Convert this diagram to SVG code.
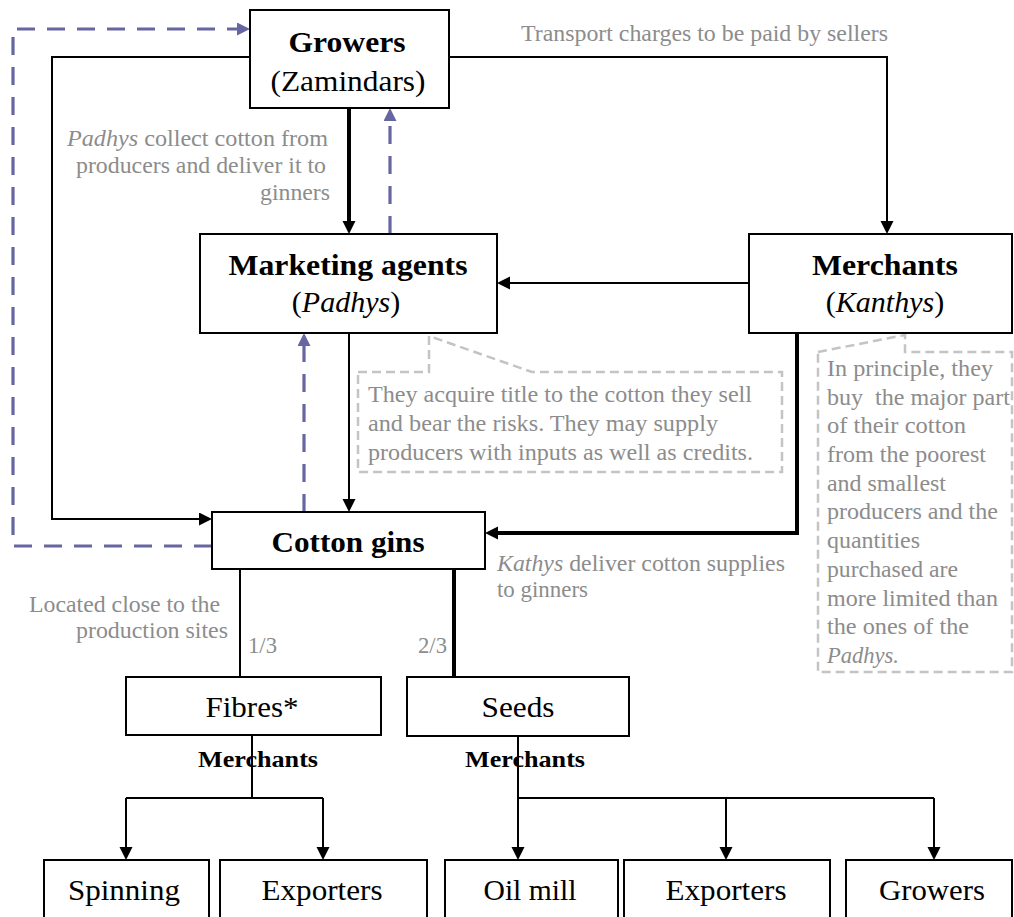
<svg xmlns="http://www.w3.org/2000/svg" width="1014" height="917" viewBox="0 0 1014 917">
<style>
.box{fill:#fff;stroke:#000;stroke-width:2}
.hd{font-family:"Liberation Serif",serif;font-size:30px;font-weight:bold;fill:#000;text-anchor:middle}
.sub{font-family:"Liberation Serif",serif;font-size:30px;fill:#000;text-anchor:middle}
.nt{font-family:"Liberation Serif",serif;font-size:29px;fill:#000;text-anchor:middle}
.ann{font-family:"Liberation Serif",serif;font-size:23px;fill:#8c8c8c}
.lbl{font-family:"Liberation Serif",serif;font-size:24px;font-weight:bold;fill:#000;text-anchor:middle}
.ln{fill:none;stroke:#000;stroke-width:2}
.thick{fill:none;stroke:#000;stroke-width:4}
.pd{fill:none;stroke:#6666a2;stroke-width:3.2;stroke-dasharray:18 12}
.co{fill:none;stroke:#c4c4c4;stroke-width:2.5;stroke-dasharray:9 5}
.it{font-style:italic}
</style>
<defs>
<marker id="ab" markerUnits="userSpaceOnUse" markerWidth="14" markerHeight="14" refX="0" refY="6.5" orient="auto">
<path d="M0,0 L13,6.5 L0,13 Z" fill="#000"/>
</marker>
<marker id="ap" markerUnits="userSpaceOnUse" markerWidth="14" markerHeight="14" refX="0" refY="6.5" orient="auto">
<path d="M0,0 L13,6.5 L0,13 Z" fill="#6666a2"/>
</marker>
</defs>

<g id="annotations">
<text class="ann" x="521" y="41" textLength="367" lengthAdjust="spacingAndGlyphs">Transport charges to be paid by sellers</text>
<text class="ann" x="328" y="146" text-anchor="end" textLength="261" lengthAdjust="spacingAndGlyphs"><tspan class="it">Padhys</tspan> collect cotton from</text>
<text class="ann" x="326" y="173" text-anchor="end" textLength="250" lengthAdjust="spacingAndGlyphs">producers and deliver it to</text>
<text class="ann" x="330" y="200" text-anchor="end" textLength="70" lengthAdjust="spacingAndGlyphs">ginners</text>
<path class="co" d="M358,372 L429,372 L429,336 L532,372 L782,372 L782,472 L358,472 Z"/>
<text class="ann" x="368" y="402" textLength="384" lengthAdjust="spacingAndGlyphs">They acquire title to the cotton they sell</text>
<text class="ann" x="368" y="431" textLength="350" lengthAdjust="spacingAndGlyphs">and bear the risks. They may supply</text>
<text class="ann" x="368" y="460" textLength="385" lengthAdjust="spacingAndGlyphs">producers with inputs as well as credits.</text>
<path class="co" d="M818,352 L905,335 L905,352 L1012,352 L1012,672 L818,672 Z"/>
<text class="ann" x="827" y="376" textLength="166" lengthAdjust="spacingAndGlyphs">In principle, they</text>
<text class="ann" x="827" y="405" textLength="183" lengthAdjust="spacingAndGlyphs" xml:space="preserve">buy  the major part</text>
<text class="ann" x="827" y="433" textLength="139" lengthAdjust="spacingAndGlyphs">of their cotton</text>
<text class="ann" x="827" y="462" textLength="159" lengthAdjust="spacingAndGlyphs">from the poorest</text>
<text class="ann" x="827" y="491" textLength="119" lengthAdjust="spacingAndGlyphs">and smallest</text>
<text class="ann" x="827" y="519" textLength="171" lengthAdjust="spacingAndGlyphs">producers and the</text>
<text class="ann" x="827" y="548" textLength="93" lengthAdjust="spacingAndGlyphs">quantities</text>
<text class="ann" x="827" y="577" textLength="131" lengthAdjust="spacingAndGlyphs">purchased are</text>
<text class="ann" x="827" y="606" textLength="171" lengthAdjust="spacingAndGlyphs">more limited than</text>
<text class="ann" x="827" y="634" textLength="142" lengthAdjust="spacingAndGlyphs">the ones of the</text>
<text class="ann it" x="827" y="663" textLength="72" lengthAdjust="spacingAndGlyphs">Padhys.</text>
<text class="ann" x="497" y="571" textLength="288" lengthAdjust="spacingAndGlyphs"><tspan class="it">Kathys</tspan> deliver cotton supplies</text>
<text class="ann" x="497" y="597" textLength="91" lengthAdjust="spacingAndGlyphs">to ginners</text>
<text class="ann" x="29" y="612" textLength="191" lengthAdjust="spacingAndGlyphs">Located close to the</text>
<text class="ann" x="76" y="638" textLength="152" lengthAdjust="spacingAndGlyphs">production sites</text>
<text class="ann" x="248" y="653" textLength="29" lengthAdjust="spacingAndGlyphs">1/3</text>
<text class="ann" x="418" y="653" textLength="29" lengthAdjust="spacingAndGlyphs">2/3</text>
<text class="lbl" x="258" y="767" textLength="120" lengthAdjust="spacingAndGlyphs">Merchants</text>
<text class="lbl" x="525" y="767" textLength="120" lengthAdjust="spacingAndGlyphs">Merchants</text>
</g>

<g id="connectors">
<path class="ln" d="M250,57 L52,57 L52,519 L199,519" marker-end="url(#ab)"/>
<path class="ln" d="M449,57 L887,57 L887,221" marker-end="url(#ab)"/>
<path class="thick" d="M349,108 L349,221" marker-end="url(#ab)"/>
<path class="pd" d="M390,234 L390,121" marker-end="url(#ap)"/>
<path class="ln" d="M749,283 L510,283" marker-end="url(#ab)"/>
<path class="ln" d="M349,333 L349,499" marker-end="url(#ab)"/>
<path class="pd" d="M304,512 L304,346" marker-end="url(#ap)"/>
<path class="pd" d="M212,546 L13,546 L13,29 L237,29" marker-end="url(#ap)"/>
<path class="thick" d="M797,333 L797,533 L498,533" marker-end="url(#ab)"/>
<path class="ln" d="M240,569 L240,677"/>
<path class="thick" d="M454,569 L454,677"/>
<path class="ln" d="M252,735 L252,798"/>
<path class="ln" d="M126,798 L323,798"/>
<path class="ln" d="M126,798 L126,847" marker-end="url(#ab)"/>
<path class="ln" d="M323,798 L323,847" marker-end="url(#ab)"/>
<path class="ln" d="M518,736 L518,847" marker-end="url(#ab)"/>
<path class="ln" d="M518,798 L934,798"/>
<path class="ln" d="M726,798 L726,847" marker-end="url(#ab)"/>
<path class="ln" d="M934,798 L934,847" marker-end="url(#ab)"/>
</g>

<g id="node-growers">
<rect class="box" x="250" y="10" width="199" height="98"/>
<text class="hd" x="347" y="52" textLength="117" lengthAdjust="spacingAndGlyphs">Growers</text>
<text class="sub" x="348" y="91" textLength="155" lengthAdjust="spacingAndGlyphs">(Zamindars)</text>
</g>
<g id="node-marketing">
<rect class="box" x="200" y="234" width="297" height="99"/>
<text class="hd" x="348" y="275" textLength="239" lengthAdjust="spacingAndGlyphs">Marketing agents</text>
<text class="sub" x="346" y="312">(<tspan class="it">Padhys</tspan>)</text>
</g>
<g id="node-merchants">
<rect class="box" x="749" y="234" width="263" height="99"/>
<text class="hd" x="885" y="275" textLength="146" lengthAdjust="spacingAndGlyphs">Merchants</text>
<text class="sub" x="885" y="312">(<tspan class="it">Kanthys</tspan>)</text>
</g>
<g id="node-cottongins">
<rect class="box" x="212" y="512" width="273" height="57"/>
<text class="hd" x="348" y="552" textLength="153" lengthAdjust="spacingAndGlyphs">Cotton gins</text>
</g>
<g id="node-fibres">
<rect class="box" x="126" y="677" width="255" height="58"/>
<text class="nt" x="252" y="717" textLength="93" lengthAdjust="spacingAndGlyphs">Fibres*</text>
</g>
<g id="node-seeds">
<rect class="box" x="407" y="677" width="222" height="59"/>
<text class="nt" x="518" y="717" textLength="73" lengthAdjust="spacingAndGlyphs">Seeds</text>
</g>
<g id="node-spinning">
<rect class="box" x="44" y="860" width="165" height="70"/>
<text class="nt" x="124" y="900" textLength="112" lengthAdjust="spacingAndGlyphs">Spinning</text>
</g>
<g id="node-exporters1">
<rect class="box" x="220" y="860" width="207" height="70"/>
<text class="nt" x="322" y="900" textLength="121" lengthAdjust="spacingAndGlyphs">Exporters</text>
</g>
<g id="node-oilmill">
<rect class="box" x="445" y="860" width="173" height="70"/>
<text class="nt" x="530" y="900" textLength="93" lengthAdjust="spacingAndGlyphs">Oil mill</text>
</g>
<g id="node-exporters2">
<rect class="box" x="624" y="860" width="206" height="70"/>
<text class="nt" x="726" y="900" textLength="121" lengthAdjust="spacingAndGlyphs">Exporters</text>
</g>
<g id="node-growers2">
<rect class="box" x="846" y="860" width="166" height="70"/>
<text class="nt" x="932" y="900" textLength="106" lengthAdjust="spacingAndGlyphs">Growers</text>
</g>
</svg>
